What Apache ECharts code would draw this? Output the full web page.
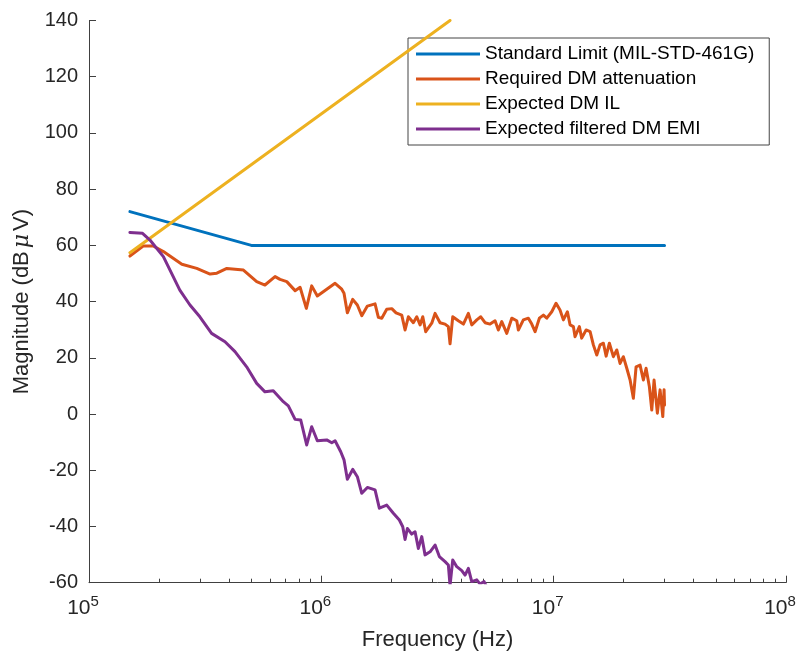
<!DOCTYPE html>
<html>
<head>
<meta charset="utf-8">
<script src="https://cdn.jsdelivr.net/npm/echarts@6/dist/echarts.min.js"></script>
<style>
  html, body { margin: 0; padding: 0; background: #fff; }
  #chart { width: 804px; height: 657px; }
</style>
</head>
<body>
<div id="chart"></div>
<script>
// MIL-STD-461G CE102 limit (dBµV)
const limitFreq = [150e3, 500e3, 30e6];
const limitDb = [72, 60, 60];

// Expected differential-mode insertion loss of the filter (dB)
const ilFreq = [150e3, 3.58e6];
const ilDb = [57.4, 140];

// Required DM attenuation (dB)
const attenFreq = [
  150e3, 171e3, 189e3, 209e3, 251e3, 291e3, 332e3, 355e3, 392e3, 462e3,
  527e3, 572e3, 632e3, 664e3, 710e3, 771e3, 810e3, 862e3, 909e3, 961e3,
  1.055e6, 1.146e6, 1.224e6, 1.252e6, 1.294e6, 1.365e6, 1.429e6, 1.493e6, 1.578e6, 1.703e6,
  1.760e6, 1.820e6, 1.912e6, 2.010e6, 2.097e6, 2.219e6, 2.293e6, 2.369e6, 2.489e6, 2.575e6,
  2.661e6, 2.733e6, 2.814e6, 2.987e6, 3.087e6, 3.243e6, 3.408e6, 3.521e6, 3.581e6, 3.678e6,
  3.888e6, 4.087e6, 4.294e6, 4.441e6, 4.667e6, 4.856e6, 5.067e6, 5.324e6, 5.595e6, 5.781e6,
  5.979e6, 6.283e6, 6.602e6, 6.937e6, 7.047e6, 7.406e6, 7.783e6, 8.049e6, 8.317e6, 8.679e6,
  9.031e6, 9.340e6, 9.813e6, 10.24e6, 10.65e6, 11.01e6, 11.46e6, 11.77e6, 12.16e6, 12.36e6,
  12.90e6, 13.20e6, 13.79e6, 14.35e6, 14.82e6, 15.33e6, 15.84e6, 16.37e6, 16.82e6, 17.37e6,
  18.07e6, 18.69e6, 19.31e6, 19.95e6, 20.64e6, 21.33e6, 22.03e6, 22.63e6, 23.54e6, 24.33e6,
  24.99e6, 25.82e6, 26.44e6, 27.05e6, 27.95e6, 28.71e6, 29.49e6, 29.87e6, 30.0e6
];
const attenDb = [
  56.2, 59.8, 59.8, 57.8, 53.3, 51.8, 49.8, 50.1, 51.8, 51.2,
  47.1, 45.9, 48.9, 47.9, 47.1, 43.9, 45.1, 37.6, 45.6, 42.0,
  44.4, 46.5, 44.4, 43.0, 36.0, 40.8, 38.8, 35.0, 38.4, 39.2,
  34.4, 34.1, 37.3, 37.5, 36.0, 35.2, 29.9, 34.6, 32.5, 34.6,
  31.7, 34.6, 29.3, 32.3, 35.8, 32.5, 32.0, 31.1, 25.0, 34.6,
  33.2, 32.0, 35.8, 31.7, 33.5, 34.6, 32.5, 32.0, 33.2, 29.9,
  32.9, 28.7, 34.1, 33.2, 29.9, 33.5, 34.1, 32.0, 29.3, 34.1,
  35.2, 34.1, 36.4, 39.4, 37.0, 33.5, 36.4, 31.7, 31.1, 27.5,
  31.1, 27.0, 29.9, 29.3, 24.6, 21.0, 24.6, 25.2, 20.6, 25.2,
  20.4, 22.8, 18.0, 20.4, 16.3, 12.1, 5.6, 16.8, 17.4, 12.1,
  16.3, 9.7, 1.4, 12.1, 0.3, 8.6, -0.9, 8.6, 3.2
];

// Expected filtered DM EMI (dBµV)
const emiFreq = [
  150e3, 170e3, 183e3, 209e3, 246e3, 272e3, 300e3, 337e3, 385e3, 425e3,
  477e3, 527e3, 572e3, 621e3, 686e3, 721e3, 771e3, 815e3, 865e3, 909e3,
  961e3, 1.055e6, 1.109e6, 1.146e6, 1.212e6, 1.252e6, 1.294e6, 1.365e6, 1.429e6, 1.493e6,
  1.578e6, 1.703e6, 1.777e6, 1.912e6, 2.042e6, 2.167e6, 2.241e6, 2.293e6, 2.346e6, 2.449e6,
  2.532e6, 2.616e6, 2.705e6, 2.795e6, 2.937e6, 3.087e6, 3.221e6, 3.408e6, 3.521e6, 3.581e6,
  3.678e6, 3.828e6, 4.022e6, 4.156e6, 4.294e6, 4.441e6, 4.667e6, 4.823e6, 5.017e6, 5.150e6
];
const emiDb = [
  64.6, 64.3, 61.9, 56.0, 44.1, 38.8, 34.6, 28.7, 25.7, 22.2,
  16.8, 10.9, 7.9, 8.3, 4.4, 2.9, -1.9, -2.1, -11.0, -4.5,
  -9.5, -9.2, -10.2, -9.5, -13.4, -16.3, -23.2, -19.7, -22.3, -28.2,
  -26.1, -27.0, -33.5, -32.4, -35.3, -37.7, -40.1, -44.6, -40.7, -42.7,
  -41.9, -47.8, -43.6, -50.1, -49.0, -46.6, -50.7, -52.5, -53.7, -61.0,
  -51.9, -54.3, -55.7, -57.3, -54.9, -59.6, -59.0, -60.5, -59.6, -61.5
];

// Axis ticks
const xMajorTicks = [1e5, 1e6, 1e7, 1e8];
const yTicks = { min: -60, max: 140, step: 20 };

const seriesNames = [
  'Standard Limit (MIL-STD-461G)',
  'Required DM attenuation',
  'Expected DM IL',
  'Expected filtered DM EMI'
];
const seriesColors = ['#0072BD', '#D95319', '#EDB120', '#7E2F8E'];

// minor log ticks at 2..9 of every decade
const xMinorTicks = [];
for (let d = 1e5; d < 1e8; d *= 10) {
  for (let m = 2; m <= 9; m++) xMinorTicks.push(m * d);
}

const pair = (xs, ys) => xs.map((x, i) => [x, ys[i]]);

const FONT = '"Liberation Sans", Arial, Helvetica, sans-serif';
const AXIS_COLOR = '#404040';
const TEXT_COLOR = '#262626';

const chart = echarts.init(document.getElementById('chart'), null, { renderer: 'canvas' });

chart.setOption({
  animation: false,
  backgroundColor: '#fff',
  textStyle: { fontFamily: FONT },
  grid: { left: 89, right: 18, top: 20.5, bottom: 74.3, containLabel: false },
  legend: {
    orient: 'vertical',
    left: 408,
    top: 38,
    padding: [6, 15, 6, 8],
    itemGap: 5,
    itemWidth: 64,
    itemHeight: 3,
    icon: 'rect',
    backgroundColor: '#fff',
    borderColor: '#444',
    borderWidth: 1,
    borderRadius: 0,
    data: seriesNames,
    textStyle: { fontFamily: FONT, fontSize: 19, color: '#000', lineHeight: 20 }
  },
  xAxis: [
    {
      type: 'log',
      logBase: 10,
      min: 1e5,
      max: 1e8,
      position: 'bottom',
      name: 'Frequency (Hz)',
      nameLocation: 'middle',
      nameGap: 46,
      nameTextStyle: { fontFamily: FONT, fontSize: 22, color: TEXT_COLOR },
      axisLine: { show: true, onZero: false, lineStyle: { color: AXIS_COLOR, width: 1 } },
      axisTick: { show: true, inside: true, length: 7, customValues: xMajorTicks, lineStyle: { color: AXIS_COLOR } },
      axisLabel: {
        show: true,
        margin: 12,
        padding: [0, 12, 0, 0],
        customValues: xMajorTicks,
        color: TEXT_COLOR,
        formatter: v => '{b|10}{s|' + Math.round(Math.log10(v)) + '}',
        rich: {
          b: { fontFamily: FONT, fontSize: 21, color: TEXT_COLOR },
          s: { fontFamily: FONT, fontSize: 15, color: TEXT_COLOR, padding: [0, 0, 13, 0] }
        }
      },
      splitLine: { show: false },
      minorTick: { show: false }
    },
    {
      type: 'log',
      logBase: 10,
      min: 1e5,
      max: 1e8,
      position: 'bottom',
      axisLine: { show: false, onZero: false },
      axisTick: { show: true, inside: true, length: 4, customValues: xMinorTicks, lineStyle: { color: AXIS_COLOR } },
      axisLabel: { show: false },
      splitLine: { show: false }
    }
  ],
  yAxis: {
    type: 'value',
    min: yTicks.min,
    max: yTicks.max,
    interval: yTicks.step,
    name: '{t|Magnitude (dB}{mu|μ}{t|V)}',
    nameLocation: 'middle',
    nameGap: 56,
    nameRotate: 90,
    nameTextStyle: {
      rich: {
        t: { fontFamily: FONT, fontSize: 22, color: TEXT_COLOR },
        mu: { fontFamily: '"DejaVu Serif", serif', fontStyle: 'italic', fontSize: 22, color: TEXT_COLOR, padding: [0, 3, 0, 3] }
      }
    },
    axisLine: { show: true, onZero: false, lineStyle: { color: AXIS_COLOR, width: 1 } },
    axisTick: { show: true, inside: true, length: 7, lineStyle: { color: AXIS_COLOR } },
    axisLabel: { margin: 11, fontFamily: FONT, fontSize: 20, color: TEXT_COLOR },
    splitLine: { show: false }
  },
  series: [
    { name: seriesNames[0], data: pair(limitFreq, limitDb) },
    { name: seriesNames[1], data: pair(attenFreq, attenDb) },
    { name: seriesNames[2], data: pair(ilFreq, ilDb) },
    { name: seriesNames[3], data: pair(emiFreq, emiDb) }
  ].map((s, i) => ({
    type: 'line',
    name: s.name,
    data: s.data,
    xAxisIndex: 0,
    symbol: 'none',
    clip: true,
    color: seriesColors[i],
    lineStyle: { color: seriesColors[i], width: 3, join: 'round', cap: 'round' },
    z: 2 + i
  }))
});
</script>
</body>
</html>
